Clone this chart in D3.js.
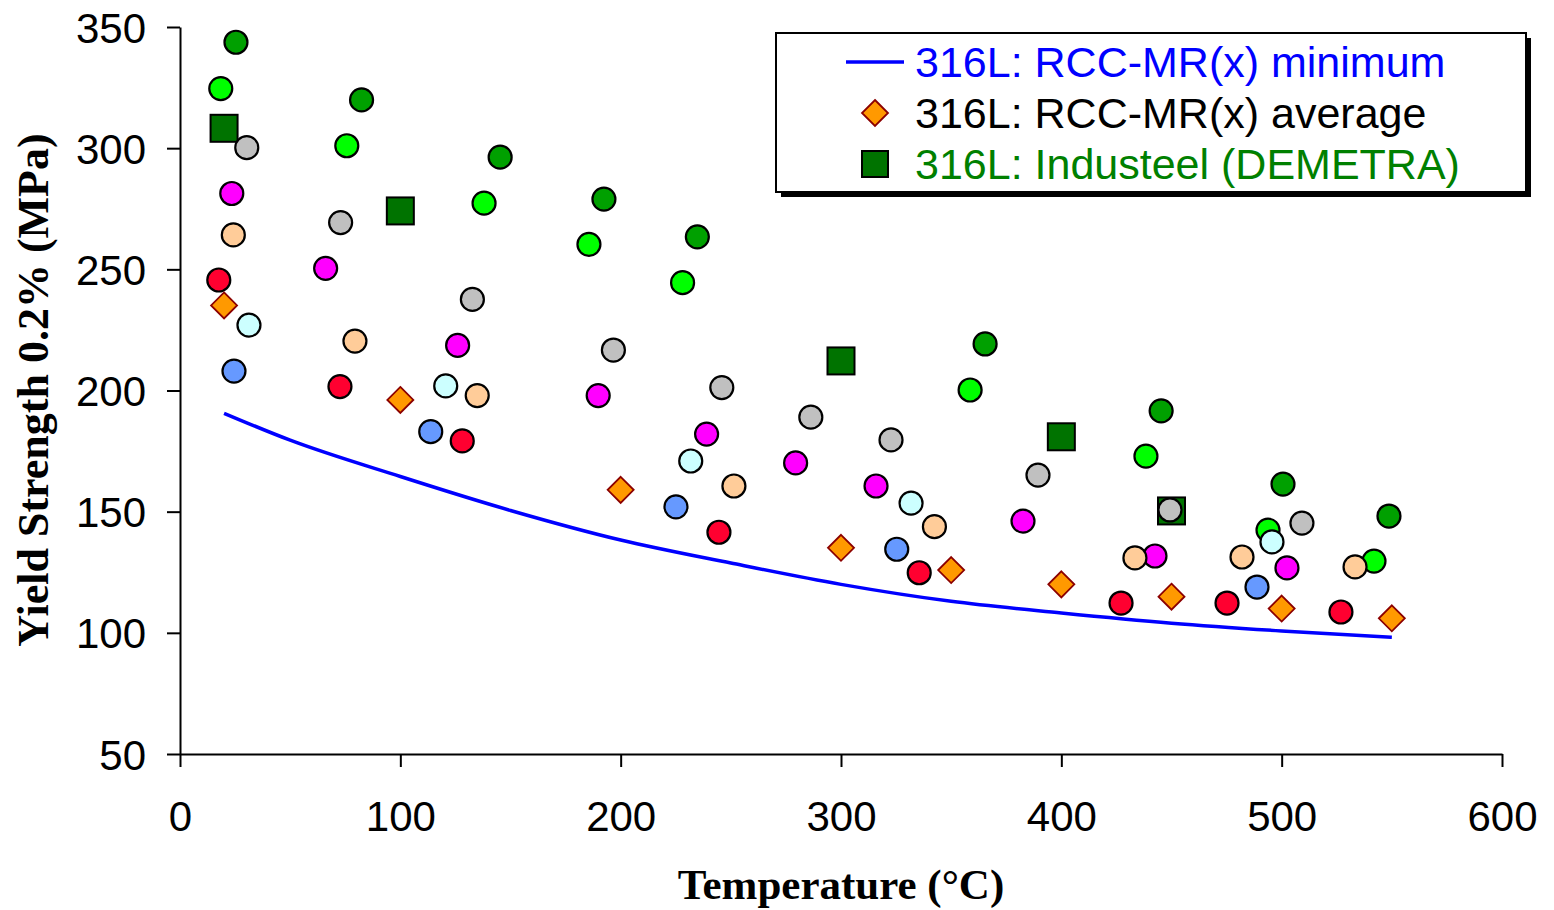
<!DOCTYPE html>
<html>
<head>
<meta charset="utf-8">
<script src="https://cdn.jsdelivr.net/npm/d3@7"></script>
<style>
  html, body { margin: 0; padding: 0; background: #fff; }
  svg { display: block; }
</style>
</head>
<body>
<div id="chart"></div>
<script>
// RCC-MR(x) minimum curve
const minT  = [20, 50, 100, 150, 200, 250, 300, 350, 400, 450, 500, 550];
const minYS = [190.6, 179.5, 164.5, 150.5, 138.3, 128.8, 120.0, 113.0, 108.2, 104.0, 100.8, 98.2];

// RCC-MR(x) average
const avgT  = [20, 100, 200, 300, 350, 400, 450, 500, 550];
const avgYS = [235.1, 196.1, 159.0, 135.1, 125.9, 120.0, 114.9, 110.0, 106.0];

// Industeel (DEMETRA)
const indT  = [20, 100, 300, 400, 450];
const indYS = [308.2, 274.1, 212.2, 180.9, 150.3];

// other heats (circles)
const dkGreenT  = [25.4, 82.4, 145.3, 192.4, 234.8, 365.4, 445.3, 500.6, 548.7];
const dkGreenYS = [343.7, 319.9, 296.3, 279.0, 263.4, 219.2, 191.6, 161.4, 148.2];
const ltGreenT  = [18.5, 75.7, 138.0, 185.6, 228.1, 358.6, 438.4, 493.8, 541.9];
const ltGreenYS = [324.6, 301.0, 277.3, 260.3, 244.5, 200.2, 172.9, 142.4, 129.6];
const greyT  = [30.3, 72.9, 132.7, 196.7, 245.9, 286.3, 322.7, 389.4, 449.3, 509.2];
const greyYS = [300.2, 269.3, 237.6, 216.7, 201.2, 189.0, 179.6, 165.1, 150.7, 145.3];
const magentaT  = [23.5, 66.1, 126.0, 189.8, 239.0, 279.4, 315.9, 382.6, 442.5, 502.4];
const magentaYS = [281.3, 250.4, 218.6, 197.9, 182.0, 170.1, 160.6, 146.1, 131.7, 126.8];
const redT  = [17.6, 72.6, 128.1, 244.6, 335.5, 427.1, 475.2, 526.9];
const redYS = [245.6, 201.6, 179.2, 141.5, 124.8, 112.3, 112.3, 108.6];
const blueT  = [24.5, 113.8, 225.1, 325.3, 488.8];
const blueYS = [208.0, 183.0, 152.0, 134.5, 118.9];
const cyanT  = [31.3, 120.6, 231.8, 331.8, 495.6];
const cyanYS = [227.0, 201.9, 170.9, 153.5, 137.5];
const peachT  = [24.2, 79.4, 134.9, 251.4, 342.4, 433.4, 482.0, 533.3];
const peachYS = [264.2, 220.4, 197.9, 160.6, 143.8, 130.9, 131.3, 127.2];

const xTicks = [0, 100, 200, 300, 400, 500, 600];
const yTicks = [50, 100, 150, 200, 250, 300, 350];
const legendLabels = ['316L: RCC-MR(x) minimum', '316L: RCC-MR(x) average', '316L: Industeel (DEMETRA)'];

const W = 1554, H = 910;
const svg = d3.select('#chart').append('svg').attr('width', W).attr('height', H);
const x = d3.scaleLinear().domain([0, 600]).range([180, 1502]);
const y = d3.scaleLinear().domain([50, 350]).range([754, 27]);
const sans = '"Liberation Sans", Arial, sans-serif', serif = '"Liberation Serif", "Times New Roman", serif';
const zip = (a, b) => a.map((v, i) => [v, b[i]]);

// axes
const xAxis = svg.append('g').attr('transform', 'translate(0,754)')
  .call(d3.axisBottom(x).tickValues(xTicks).tickSize(13).tickPadding(0).tickSizeOuter(0));
const yAxis = svg.append('g').attr('transform', 'translate(180,0)')
  .call(d3.axisLeft(y).tickValues(yTicks).tickSize(13).tickPadding(0).tickSizeOuter(0));
[xAxis, yAxis].forEach(a => {
  a.select('.domain').attr('stroke', '#000').attr('stroke-width', 2);
  a.selectAll('.tick line').attr('stroke', '#000').attr('stroke-width', 2);
  a.selectAll('.tick text').attr('font-family', sans).attr('font-size', 42).attr('fill', '#000');
});
xAxis.selectAll('.tick text').attr('y', 77).attr('dy', 0);
yAxis.selectAll('.tick text').attr('x', -34).attr('dy', '0.36em');

// axis titles
svg.append('text').attr('x', 841).attr('y', 899).attr('text-anchor', 'middle')
  .attr('font-family', serif).attr('font-weight', 'bold').attr('font-size', 43)
  .text('Temperature (°C)');
svg.append('text').attr('transform', 'translate(48,390) rotate(-90)').attr('text-anchor', 'middle')
  .attr('font-family', serif).attr('font-weight', 'bold').attr('font-size', 44)
  .text('Yield Strength 0.2% (MPa)');

// minimum curve
const line = d3.line().x(d => x(d[0])).y(d => y(d[1])).curve(d3.curveMonotoneX);
svg.append('path').attr('d', line(zip(minT, minYS)))
  .attr('fill', 'none').attr('stroke', '#0000ff').attr('stroke-width', 3.5);

// Industeel squares
const sq = 27;
svg.append('g').selectAll('rect').data(zip(indT, indYS)).join('rect')
  .attr('x', d => x(d[0]) - sq / 2).attr('y', d => y(d[1]) - sq / 2)
  .attr('width', sq).attr('height', sq)
  .attr('fill', '#007300').attr('stroke', '#000').attr('stroke-width', 2);

// circles, in drawing order
const circleSets = [
  [dkGreenT, dkGreenYS, '#00a000'],
  [ltGreenT, ltGreenYS, '#00ff00'],
  [greyT, greyYS, '#c0c0c0'],
  [magentaT, magentaYS, '#ff00ff'],
  [redT, redYS, '#ff0030'],
  [blueT, blueYS, '#6699ff'],
  [cyanT, cyanYS, '#ccffff'],
  [peachT, peachYS, '#ffcc99']
];
circleSets.forEach(([t, ys, c]) => {
  svg.append('g').selectAll('circle').data(zip(t, ys)).join('circle')
    .attr('cx', d => x(d[0])).attr('cy', d => y(d[1])).attr('r', 11.5)
    .attr('fill', c).attr('stroke', '#000').attr('stroke-width', 2.2);
});

// average diamonds
const diamond = (cx, cy, r) => `M${cx},${cy - r}L${cx + r},${cy}L${cx},${cy + r}L${cx - r},${cy}Z`;
svg.append('g').selectAll('path').data(zip(avgT, avgYS)).join('path')
  .attr('d', d => diamond(x(d[0]), y(d[1]), 13))
  .attr('fill', '#ff9900').attr('stroke', '#8b0000').attr('stroke-width', 1.8);

// legend
const lg = svg.append('g');
lg.append('rect').attr('x', 781).attr('y', 38).attr('width', 750).attr('height', 159).attr('fill', '#000');
lg.append('rect').attr('x', 776).attr('y', 33).attr('width', 750).attr('height', 159)
  .attr('fill', '#fff').attr('stroke', '#000').attr('stroke-width', 2);
const rowY = [62, 113, 164];
const rowColor = ['#0000ff', '#000000', '#008000'];
lg.append('line').attr('x1', 846).attr('x2', 904).attr('y1', rowY[0]).attr('y2', rowY[0])
  .attr('stroke', '#0000ff').attr('stroke-width', 3.5);
lg.append('path').attr('d', diamond(875, rowY[1], 13))
  .attr('fill', '#ff9900').attr('stroke', '#8b0000').attr('stroke-width', 1.8);
lg.append('rect').attr('x', 875 - 13).attr('y', rowY[2] - 13).attr('width', 26).attr('height', 26)
  .attr('fill', '#007300').attr('stroke', '#000').attr('stroke-width', 2);
lg.selectAll('text.lab').data(legendLabels).join('text').attr('class', 'lab')
  .attr('x', 915).attr('y', (d, i) => rowY[i]).attr('dy', '0.36em')
  .attr('font-family', sans).attr('font-size', 43).attr('fill', (d, i) => rowColor[i])
  .text(d => d);
</script>
</body>
</html>
